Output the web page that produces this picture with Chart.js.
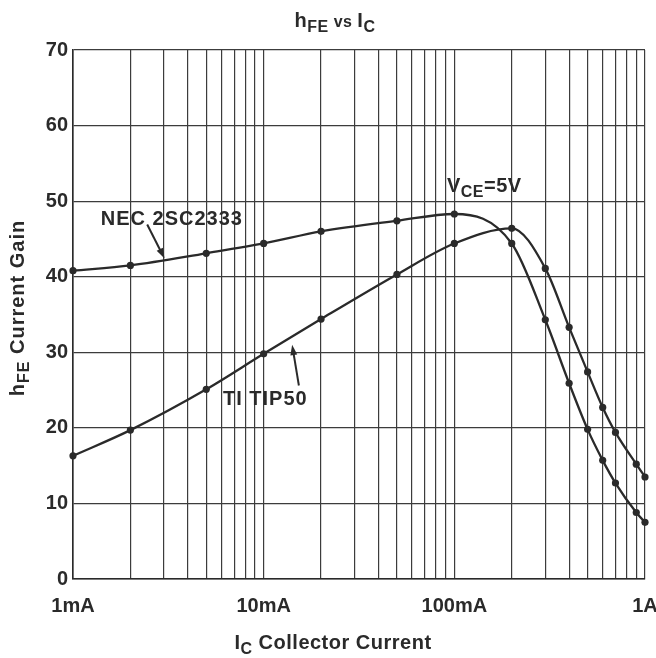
<!DOCTYPE html>
<html>
<head>
<meta charset="utf-8">
<script src="https://cdn.jsdelivr.net/npm/chart.js@4"></script>
<style>
  html, body { margin: 0; padding: 0; background: #fff; }
</style>
</head>
<body>
<canvas id="hfeChart" width="656" height="658"></canvas>
<script>
// Collector current (A) and current gain
const necCurrent = [0.001, 0.002, 0.005, 0.01, 0.02, 0.05, 0.1, 0.2, 0.3, 0.4, 0.5, 0.6, 0.7, 0.9, 1];
const necGain = [40.8, 41.5, 43.1, 44.4, 46.0, 47.4, 48.3, 44.4, 34.3, 25.9, 19.8, 15.7, 12.7, 8.8, 7.5];

const tipCurrent = [0.001, 0.002, 0.005, 0.01, 0.02, 0.05, 0.1, 0.2, 0.3, 0.4, 0.5, 0.6, 0.7, 0.9, 1];
const tipGain = [16.3, 19.7, 25.1, 29.8, 34.4, 40.3, 44.4, 46.4, 41.1, 33.3, 27.4, 22.7, 19.4, 15.2, 13.5];

// Axis ticks
const xGridValues = [
  0.001, 0.002, 0.003, 0.004, 0.005, 0.006, 0.007, 0.008, 0.009,
  0.01, 0.02, 0.03, 0.04, 0.05, 0.06, 0.07, 0.08, 0.09,
  0.1, 0.2, 0.3, 0.4, 0.5, 0.6, 0.7, 0.8, 0.9,
  1
];
const xLabelValues = [0.001, 0.01, 0.1, 1];
const xLabels = ['1mA', '10mA', '100mA', '1A'];
const yTickValues = [0, 10, 20, 30, 40, 50, 60, 70];

const ink = '#2a2a2a';
const grid = '#3c3c3c';
const fontFamily = '"Liberation Sans", Arial, Helvetica, sans-serif';

function toPoints(xs, ys) {
  return xs.map((x, i) => ({ x: x, y: ys[i] }));
}

// Draws text made of normal and subscript parts
function drawParts(ctx, parts, x, y, align) {
  let total = 0;
  parts.forEach(p => {
    ctx.font = `bold ${p.size}px ${fontFamily}`;
    p.w = ctx.measureText(p.t).width;
    total += p.w;
  });
  let cx = align === 'center' ? x - total / 2 : x;
  ctx.textAlign = 'left';
  ctx.textBaseline = 'alphabetic';
  parts.forEach(p => {
    ctx.font = `bold ${p.size}px ${fontFamily}`;
    ctx.fillText(p.t, cx, y + (p.dy || 0));
    cx += p.w;
  });
}

function drawArrow(ctx, x1, y1, x2, y2) {
  const ang = Math.atan2(y2 - y1, x2 - x1);
  const len = 11;
  ctx.beginPath();
  ctx.moveTo(x1, y1);
  ctx.lineTo(x2 - Math.cos(ang) * len * 0.8, y2 - Math.sin(ang) * len * 0.8);
  ctx.stroke();
  ctx.beginPath();
  ctx.moveTo(x2, y2);
  ctx.lineTo(x2 - len * Math.cos(ang - 0.32), y2 - len * Math.sin(ang - 0.32));
  ctx.lineTo(x2 - len * Math.cos(ang + 0.32), y2 - len * Math.sin(ang + 0.32));
  ctx.closePath();
  ctx.fill();
}

// Titles with subscripts and curve annotations
const textPlugin = {
  id: 'textPlugin',
  afterDraw(chart) {
    const ctx = chart.ctx;
    const area = chart.chartArea;
    const xs = chart.scales.x;
    const ys = chart.scales.y;
    const px = v => xs.getPixelForValue(v);
    const py = v => ys.getPixelForValue(v);
    ctx.save();
    ctx.fillStyle = ink;
    ctx.strokeStyle = ink;
    ctx.lineWidth = 2;
    ctx.letterSpacing = '0.5px';

    // chart title
    drawParts(ctx, [
      { t: 'h', size: 20 },
      { t: 'FE', size: 16, dy: 5 },
      { t: ' vs ', size: 16 },
      { t: 'I', size: 20 },
      { t: 'C', size: 16, dy: 5 }
    ], 335, 27, 'center');

    // x axis title
    drawParts(ctx, [
      { t: 'I', size: 20 },
      { t: 'C', size: 16, dy: 5 },
      { t: ' Collector Current', size: 20 }
    ], 333, 649, 'center');

    // y axis title
    ctx.save();
    ctx.translate(24, 308);
    ctx.rotate(-Math.PI / 2);
    ctx.letterSpacing = '1px';
    drawParts(ctx, [
      { t: 'h', size: 20 },
      { t: 'FE', size: 16, dy: 5 },
      { t: ' Current Gain', size: 20 }
    ], 0, 0, 'center');
    ctx.restore();

    // V_CE note
    drawParts(ctx, [
      { t: 'V', size: 20 },
      { t: 'CE', size: 16, dy: 5 },
      { t: '=5V', size: 20 }
    ], px(0.0915), py(51.2), 'left');

    // NEC label and arrow
    ctx.letterSpacing = '1px';
    ctx.font = `bold 20px ${fontFamily}`;
    ctx.textAlign = 'center';
    ctx.textBaseline = 'middle';
    ctx.fillText('NEC 2SC2333', px(0.0033), py(47.6));
    drawArrow(ctx, px(0.00245), py(46.9), px(0.00302), py(42.4));

    // TIP50 label and arrow
    ctx.fillText('TI TIP50', px(0.0102), py(23.7));
    drawArrow(ctx, px(0.0153), py(25.6), px(0.0141), py(31.0));

    ctx.restore();
  }
};

const ctx = document.getElementById('hfeChart').getContext('2d');

new Chart(ctx, {
  type: 'line',
  data: {
    datasets: [
      {
        label: 'NEC 2SC2333',
        data: toPoints(necCurrent, necGain),
        borderColor: ink,
        backgroundColor: ink,
        borderWidth: 2.3,
        pointRadius: 3.6,
        pointBackgroundColor: ink,
        pointBorderWidth: 0,
        cubicInterpolationMode: 'monotone',
        fill: false,
        clip: 6
      },
      {
        label: 'TI TIP50',
        data: toPoints(tipCurrent, tipGain),
        borderColor: ink,
        backgroundColor: ink,
        borderWidth: 2.3,
        pointRadius: 3.6,
        pointBackgroundColor: ink,
        pointBorderWidth: 0,
        cubicInterpolationMode: 'monotone',
        fill: false,
        clip: 6
      }
    ]
  },
  options: {
    responsive: false,
    devicePixelRatio: 1,
    animation: false,
    layout: {
      padding: { left: 0, top: 50, right: 11, bottom: 0 }
    },
    plugins: {
      legend: { display: false },
      tooltip: { enabled: false },
      title: { display: false }
    },
    scales: {
      x: {
        type: 'logarithmic',
        min: 0.001,
        max: 1,
        afterBuildTicks(scale) {
          scale.ticks = xGridValues.map(v => ({ value: v }));
        },
        afterFit(scale) {
          scale.height = 79;
          scale.paddingLeft = 0;
          scale.paddingRight = 0;
        },
        grid: {
          color: grid,
          lineWidth: 1.2,
          drawTicks: false
        },
        border: { color: ink, width: 1.6 },
        ticks: {
          autoSkip: false,
          maxRotation: 0,
          padding: 15,
          color: ink,
          font: { family: fontFamily, size: 20, weight: 'bold' },
          callback(value) {
            const i = xLabelValues.findIndex(v => Math.abs(v - value) < 1e-9);
            return i >= 0 ? xLabels[i] : '';
          }
        }
      },
      y: {
        type: 'linear',
        min: 0,
        max: 70,
        afterBuildTicks(scale) {
          scale.ticks = yTickValues.map(v => ({ value: v }));
        },
        afterFit(scale) {
          scale.width = 73;
          scale.paddingTop = 0;
          scale.paddingBottom = 0;
        },
        grid: {
          color: grid,
          lineWidth: 1.2,
          drawTicks: false
        },
        border: { color: ink, width: 1.6 },
        ticks: {
          padding: 5,
          color: ink,
          font: { family: fontFamily, size: 20, weight: 'bold' }
        }
      }
    }
  },
  plugins: [textPlugin]
});
</script>
</body>
</html>
